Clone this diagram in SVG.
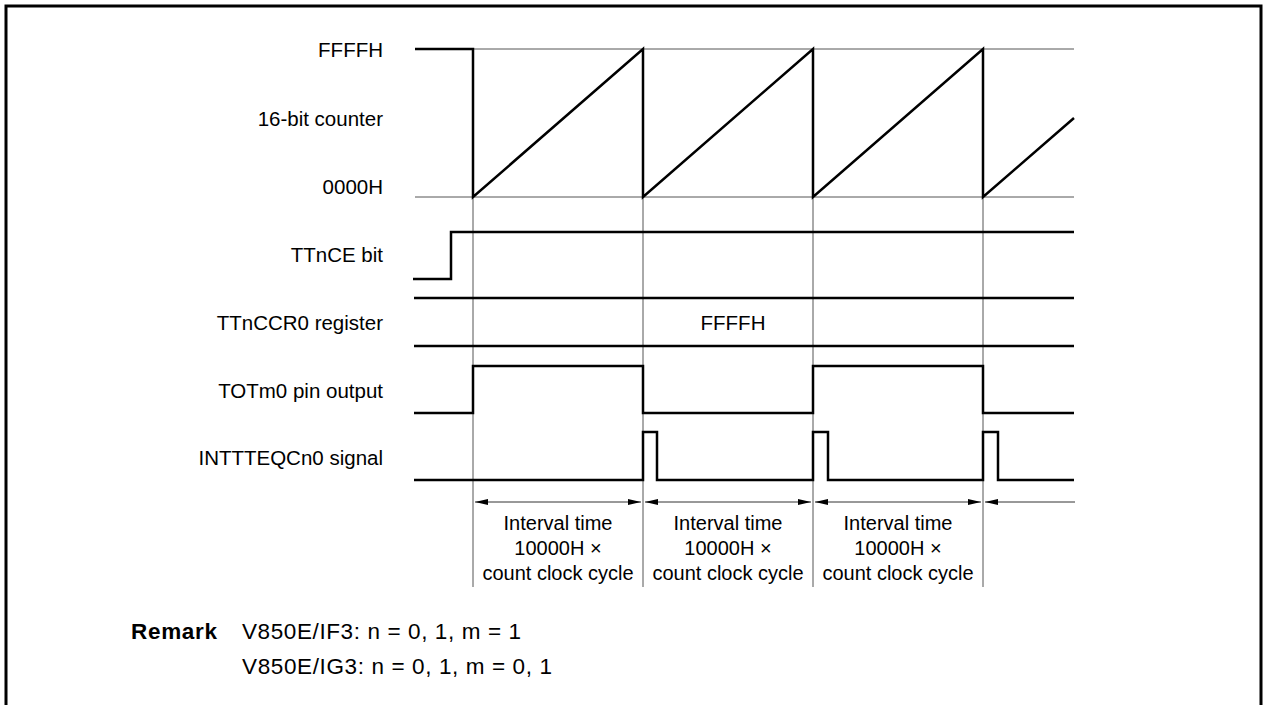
<svg xmlns="http://www.w3.org/2000/svg" width="1265" height="705" viewBox="0 0 1265 705">
<style>
.lbl{font-family:"Liberation Sans",Arial,sans-serif;font-size:20px;fill:#000}
.big{font-size:20.5px}
.rem{font-size:22.5px}
.r{text-anchor:end}
.c{text-anchor:middle}
.b{font-weight:bold}
.wave{fill:none;stroke:#000;stroke-width:2.5}
.grid{fill:none;stroke:#555;stroke-width:1}
.dim{fill:none;stroke:#333;stroke-width:1}
</style>
<defs>
<marker id="ah" viewBox="0 0 13 6" refX="13" refY="3" markerWidth="13" markerHeight="6" markerUnits="userSpaceOnUse" orient="auto-start-reverse">
<path d="M0,0 L13,3 L0,6 Z" fill="#000"/>
</marker>
</defs>
<rect width="1265" height="705" fill="#fff"/>
<path d="M6,705 V6 H1261 V705" fill="none" stroke="#000" stroke-width="3"/>

<g id="grid">
<line class="grid" x1="473" y1="49" x2="1074" y2="49"/>
<line class="grid" x1="415" y1="197" x2="1074" y2="197"/>
<line class="grid" x1="473" y1="49" x2="473" y2="587"/>
<line class="grid" x1="643" y1="49" x2="643" y2="587"/>
<line class="grid" x1="813" y1="49" x2="813" y2="587"/>
<line class="grid" x1="983" y1="49" x2="983" y2="587"/>
</g>

<g id="counter">
<text class="lbl big r" x="383" y="57">FFFFH</text>
<text class="lbl big r" x="383" y="126">16-bit counter</text>
<text class="lbl big r" x="383" y="194">0000H</text>
<path class="wave" d="M415,49 H473 V197 L643,49 V197 L813,49 V197 L983,49 V197 L1074,118"/>
</g>

<g id="ttnce">
<text class="lbl big r" x="383" y="262">TTnCE bit</text>
<path class="wave" d="M413,279 H451 V232 H1074"/>
</g>

<g id="ttnccr0">
<text class="lbl big r" x="383" y="330">TTnCCR0 register</text>
<line class="wave" x1="414" y1="298" x2="1074" y2="298"/>
<line class="wave" x1="414" y1="346" x2="1074" y2="346"/>
<text class="lbl big c" x="733" y="330">FFFFH</text>
</g>

<g id="totm0">
<text class="lbl big r" x="383" y="398">TOTm0 pin output</text>
<path class="wave" d="M414,413 H473 V366 H643 V413 H813 V366 H983 V413 H1074"/>
</g>

<g id="intt">
<text class="lbl big r" x="383" y="465">INTTTEQCn0 signal</text>
<path class="wave" d="M414,480 H643 V432 H657 V480 H813 V432 H828 V480 H983 V432 H998 V480 H1074"/>
</g>

<g id="connectors">
<line class="dim" x1="475" y1="502" x2="641" y2="502" marker-start="url(#ah)" marker-end="url(#ah)"/>
<line class="dim" x1="645" y1="502" x2="811" y2="502" marker-start="url(#ah)" marker-end="url(#ah)"/>
<line class="dim" x1="815" y1="502" x2="981" y2="502" marker-start="url(#ah)" marker-end="url(#ah)"/>
<line class="dim" x1="985" y1="502" x2="1075" y2="502" marker-start="url(#ah)"/>
</g>

<g id="intervals">
<text class="lbl c" x="558" y="530">Interval time</text>
<text class="lbl c" x="558" y="555">10000H ×</text>
<text class="lbl c" x="558" y="580">count clock cycle</text>
<text class="lbl c" x="728" y="530">Interval time</text>
<text class="lbl c" x="728" y="555">10000H ×</text>
<text class="lbl c" x="728" y="580">count clock cycle</text>
<text class="lbl c" x="898" y="530">Interval time</text>
<text class="lbl c" x="898" y="555">10000H ×</text>
<text class="lbl c" x="898" y="580">count clock cycle</text>
</g>

<g id="remark">
<text class="lbl rem b" x="131" y="639" textLength="86" lengthAdjust="spacing">Remark</text>
<text class="lbl rem" x="242" y="639" textLength="279" lengthAdjust="spacing">V850E/IF3: n = 0, 1, m = 1</text>
<text class="lbl rem" x="242" y="674" textLength="310" lengthAdjust="spacing">V850E/IG3: n = 0, 1, m = 0, 1</text>
</g>
</svg>
